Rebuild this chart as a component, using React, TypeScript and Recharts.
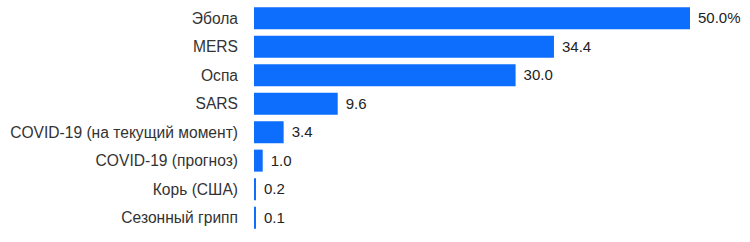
import React from 'react';
import { BarChart, Bar, XAxis, YAxis, LabelList } from 'recharts';

const categories = [
  'Эбола',
  'MERS',
  'Оспа',
  'SARS',
  'COVID-19 (на текущий момент)',
  'COVID-19 (прогноз)',
  'Корь (США)',
  'Сезонный грипп',
];
const mortality = [50.0, 34.4, 30.0, 9.6, 3.4, 1.0, 0.2, 0.1];
const labelSuffixes = ['%', '', '', '', '', '', '', ''];

const data = categories.map((name, i) => ({ name, value: mortality[i], suffix: labelSuffixes[i] }));

const FONT = '"Liberation Sans", Arial, sans-serif';

const ValueLabel = (props: any) => {
  const { x, y, width, height, index } = props;
  const d = data[index];
  return (
    <text
      x={x + width + 8}
      y={y + height / 2}
      dy="0.35em"
      fontSize={15}
      fontFamily={FONT}
      fill="#222"
    >
      {d.value.toFixed(1) + d.suffix}
    </text>
  );
};

export default function App() {
  return (
    <div style={{ position: 'absolute', left: 0, top: 0, width: 750, height: 242, background: '#fff' }}>
      <BarChart
        width={750}
        height={242}
        data={data}
        layout="vertical"
        margin={{ top: 4, right: 60, bottom: 10, left: 0 }}
        barCategoryGap="11%"
      >
        <XAxis type="number" domain={[0, 50]} hide />
        <YAxis
          type="category"
          dataKey="name"
          width={254}
          axisLine={false}
          tickLine={false}
          tickMargin={10}
          interval={0}
          tick={{ fontSize: 15.6, fill: '#333', fontFamily: FONT }}
        />
        <Bar dataKey="value" fill="#0D6EFD" isAnimationActive={false} minPointSize={2}>
          <LabelList dataKey="value" content={ValueLabel} />
        </Bar>
      </BarChart>
    </div>
  );
}
